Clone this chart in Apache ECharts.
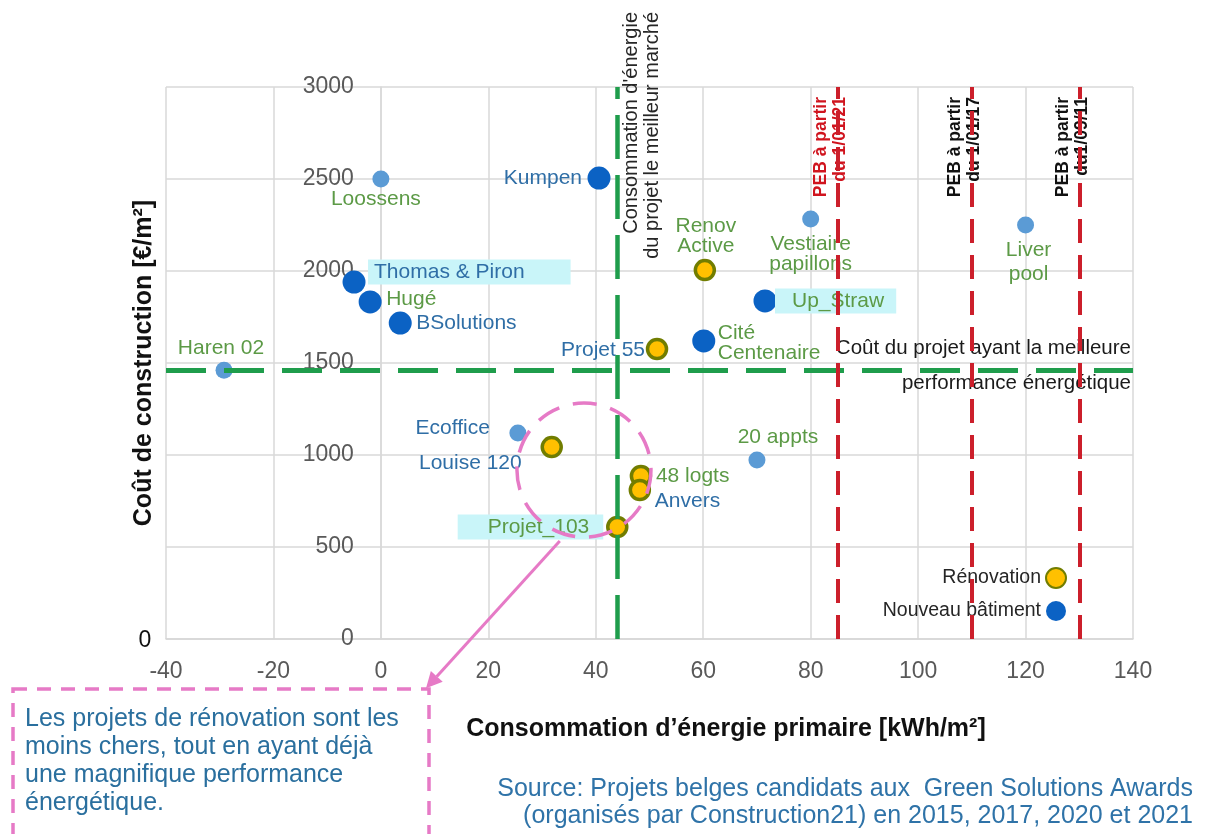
<!DOCTYPE html>
<html lang="fr">
<head>
<meta charset="utf-8">
<title>Coût de construction vs consommation d'énergie primaire</title>
<script src="https://cdn.jsdelivr.net/npm/echarts@6/dist/echarts.min.js"></script>
<style>
  html, body { margin: 0; padding: 0; background: #ffffff; }
  #chart { width: 1205px; height: 834px; }
</style>
</head>
<body>
<div id="chart"></div>
<script>
// ---- Data -------------------------------------------------------------
// Rénovation projects
const renovNames = ['Renov\nActive', 'Projet 55', 'Louise 120', '48 logts', 'Anvers', 'Projet_103'];
const renovX = [60.3, 51.4, 31.8, 48.4, 48.2, 44];
const renovY = [2005, 1576, 1043, 886, 810, 609];

// New buildings (large markers)
const newNames = ['Kumpen', 'Thomas & Piron', 'Hugé', 'BSolutions', 'Cité\nCentenaire', 'Up_Straw'];
const newX = [40.6, -5, -2, 3.6, 60.1, 71.5];
const newY = [2505, 1940, 1832, 1717, 1620, 1837];

// Other candidates (small markers)
const otherNames = ['Loossens', 'Haren 02', 'Vestiaire\npapillons', 'Liver\npool', 'Ecoffice', '20 appts'];
const otherX = [0, -29.2, 80, 120, 25.5, 70];
const otherY = [2500, 1460, 2283, 2250, 1120, 973];

// Reference lines
const cheapestProjectEnergy = 44;      // energy use of the cheapest project
const bestEnergyProjectCost = 1460;    // cost of the most efficient project
const pebThresholds = [85, 110, 130];
const pebLabels = ['PEB à partir\ndu 1/01/21', 'PEB à partir\ndu 1/01/17', 'PEB à partir\ndu1/09/11'];

// Axes
const xMin = -40, xMax = 140, xStep = 20;
const yMin = 0, yMax = 3000, yStep = 500;
const yAxisCrossesAt = 0;   // the vertical axis crosses the horizontal one here

// Legend names
const legendNames = ['Rénovation', 'Nouveau bâtiment'];

// ---- Styles -----------------------------------------------------------
const FONT = "'Liberation Sans', Arial, Helvetica, sans-serif";
const BLUE_TXT = '#2f6ea6';
const GREEN_TXT = '#5c9a46';
const HILITE = '#c9f5f9';
const GREEN_LINE = '#1f9d4c';
const RED_LINE = '#cc1f2b';
const PINK = '#e67ac6';

// Label placement per project: [dx, dy, align, colour, extra]
const labelPlacement = {
  'Renov\nActive':        [1, -34, 'center', GREEN_TXT],
  'Projet 55':            [-12, 1, 'right', BLUE_TXT],
  'Louise 120':           [-30, 16, 'right', BLUE_TXT],
  '48 logts':             [15, 0, 'left', GREEN_TXT],
  'Anvers':               [15, 11, 'left', BLUE_TXT],
  'Projet_103':           [-14, 0, 'right', GREEN_TXT, { backgroundColor: HILITE, padding: [3, 14, 2, 30] }],
  'Kumpen':               [-17, 0, 'right', BLUE_TXT],
  'Thomas & Piron':       [14, -10, 'left', BLUE_TXT, { backgroundColor: HILITE, padding: [3, 46, 2, 6] }],
  'Hugé':                 [16, -3, 'left', GREEN_TXT],
  'BSolutions':           [16, 0, 'left', BLUE_TXT],
  'Cité\nCentenaire':     [14, 2, 'left', GREEN_TXT],
  'Up_Straw':             [10, 0, 'left', GREEN_TXT, { backgroundColor: HILITE, padding: [3, 12, 2, 17] }],
  'Loossens':             [-5, 20, 'center', GREEN_TXT],
  'Haren 02':             [-3, -22, 'center', GREEN_TXT],
  'Vestiaire\npapillons': [0, 35, 'center', GREEN_TXT],
  'Liver\npool':          [3, 37, 'center', GREEN_TXT, { lineHeight: 24 }],
  'Ecoffice':             [-28, -5, 'right', BLUE_TXT],
  '20 appts':             [21, -23, 'center', GREEN_TXT]
};

function buildPoints(names, xs, ys) {
  return names.map(function (n, i) {
    const p = labelPlacement[n];
    const label = Object.assign({
      show: true,
      position: 'inside',
      offset: [p[0], p[1]],
      align: p[2],
      verticalAlign: 'middle',
      color: p[3]
    }, p[4] || {});
    return { name: n, value: [xs[i], ys[i]], label: label };
  });
}

const chart = echarts.init(document.getElementById('chart'), null, { renderer: 'canvas' });

const labelBase = {
  fontFamily: FONT,
  fontSize: 21,
  lineHeight: 20,
  formatter: '{b}'
};

const option = {
  backgroundColor: '#ffffff',
  animation: false,
  textStyle: { fontFamily: FONT },
  grid: { left: 166, right: 72, top: 87, bottom: 195, containLabel: false },
  xAxis: {
    type: 'value',
    min: xMin, max: xMax, interval: xStep,
    axisLine: { show: true, onZero: false, lineStyle: { color: '#d6d6d6', width: 1.5 } },
    axisTick: { show: false },
    axisLabel: { color: '#595959', fontSize: 23, margin: 21, fontFamily: FONT,
                 formatter: function (v) { return String(v); } },
    splitLine: { show: true, lineStyle: { color: '#d9d9d9', width: 1.5 } }
  },
  yAxis: {
    type: 'value',
    min: yMin, max: yMax, interval: yStep,
    axisLine: { show: true, onZero: false, lineStyle: { color: '#d9d9d9', width: 1.5 } },
    axisTick: { show: false },
    axisLabel: { color: '#595959', fontSize: 23, margin: 27, fontFamily: FONT,
                 formatter: function (v) { return String(v); } },
    splitLine: { show: true, lineStyle: { color: '#d9d9d9', width: 1.5 } }
  },
  legend: {
    data: legendNames,
    orient: 'vertical',
    right: 133,
    top: 562,
    align: 'right',
    itemWidth: 20,
    itemHeight: 20,
    itemGap: 12,
    icon: 'circle',
    textStyle: { color: '#262626', fontSize: 19.5, fontFamily: FONT }
  },
  series: [
    {
      // reference lines
      name: 'refs',
      type: 'scatter',
      data: [],
      z: 1,
      silent: true,
      markLine: {
        silent: true,
        symbol: 'none',
        label: { show: false },
        animation: false,
        data: [
          { xAxis: cheapestProjectEnergy, lineStyle: { color: GREEN_LINE, width: 4.5, type: [44, 16] } },
          { yAxis: bestEnergyProjectCost, lineStyle: { color: GREEN_LINE, width: 5, type: [40, 18] } }
        ].concat(pebThresholds.map(function (v) {
          return { xAxis: v, lineStyle: { color: RED_LINE, width: 4, type: [24, 12] } };
        }))
      }
    },
    {
      name: 'Autres',
      type: 'scatter',
      z: 3,
      symbolSize: 17,
      itemStyle: { color: '#5b9bd5', opacity: 1 },
      label: labelBase,
      data: buildPoints(otherNames, otherX, otherY)
    },
    {
      name: 'Rénovation',
      type: 'scatter',
      z: 4,
      symbolSize: 19,
      itemStyle: { color: '#ffc000', borderColor: '#717d00', borderWidth: 3.5, opacity: 1 },
      label: labelBase,
      data: buildPoints(renovNames, renovX, renovY)
    },
    {
      name: 'Nouveau bâtiment',
      type: 'scatter',
      z: 4,
      symbolSize: 23,
      itemStyle: { color: '#0b62c4', opacity: 1 },
      label: labelBase,
      data: buildPoints(newNames, newX, newY)
    }
  ]
};

chart.setOption(option);

function px(x, y) { return chart.convertToPixel({ gridIndex: 0 }, [x, y]); }

// Move the vertical axis (line and labels) onto x = 0.
chart.setOption({ yAxis: { offset: -(px(yAxisCrossesAt, 0)[0] - px(xMin, 0)[0]) } });

// ---- Annotations placed from data coordinates ---------------------------
const plotTop = px(0, yMax)[1];
const plotBottom = px(0, yMin)[1];
const plotRight = px(xMax, 0)[0];
const hLineY = px(0, bestEnergyProjectCost)[1];
const vLineX = px(cheapestProjectEnergy, 0)[0];

// circle around the cheap renovation cluster, in data units
const clusterCentre = [37.8, 918];
const arrowFrom = [33.3, 533];
const arrowTo = [8.4, -268];

const c = px(clusterCentre[0], clusterCentre[1]);
const a0 = px(arrowFrom[0], arrowFrom[1]);
const a1 = px(arrowTo[0], arrowTo[1]);

// arrow head
const ang = Math.atan2(a1[1] - a0[1], a1[0] - a0[0]);
const headLen = 16, headW = 8;
const hx = a1[0] - headLen * Math.cos(ang), hy = a1[1] - headLen * Math.sin(ang);
const head = [
  [a1[0], a1[1]],
  [hx + headW * Math.sin(ang), hy - headW * Math.cos(ang)],
  [hx - headW * Math.sin(ang), hy + headW * Math.cos(ang)]
];

const graphics = [];

// vertical green line caption
graphics.push({
  type: 'text', x: vLineX + 25, y: 12, rotation: Math.PI / 2, z: 2,
  style: {
    text: "Consommation d'énergie\ndu projet le meilleur marché",
    align: 'right', verticalAlign: 'middle',
    font: '20px ' + FONT, lineHeight: 21, fill: '#262626'
  }
});

// PEB captions
pebThresholds.forEach(function (v, i) {
  graphics.push({
    type: 'text', x: px(v, 0)[0] - 7, y: plotTop + 10, rotation: Math.PI / 2, z: 0,
    style: {
      text: pebLabels[i],
      align: 'right', verticalAlign: 'middle',
      font: 'bold 17.5px ' + FONT, lineHeight: 19,
      fill: i === 0 ? '#d0141e' : '#111111'
    }
  });
});

// horizontal green line caption
graphics.push({
  type: 'text', x: plotRight - 2, y: hLineY - 22, z: 2,
  style: { text: 'Coût du projet ayant la meilleure', align: 'right', verticalAlign: 'middle',
           font: '20.5px ' + FONT, fill: '#1a1a1a' }
});
graphics.push({
  type: 'text', x: plotRight - 2, y: hLineY + 13, z: 2,
  style: { text: 'performance énergétique', align: 'right', verticalAlign: 'middle',
           font: '20.5px ' + FONT, fill: '#1a1a1a' }
});

// dashed circle + arrow
graphics.push({
  type: 'circle', shape: { cx: c[0], cy: c[1], r: 67 }, z: 5,
  style: { fill: 'none', stroke: PINK, lineWidth: 3.5, lineDash: [24, 14] }
});
graphics.push({
  type: 'line', shape: { x1: a0[0], y1: a0[1], x2: hx, y2: hy }, z: 5,
  style: { stroke: PINK, lineWidth: 3 }
});
graphics.push({
  type: 'polygon', shape: { points: head }, z: 5,
  style: { fill: PINK }
});

// comment box
graphics.push({
  type: 'rect', shape: { x: 13, y: 689, width: 416, height: 150 }, z: 5,
  style: { fill: 'none', stroke: PINK, lineWidth: 3.5, lineDash: [14, 10] }
});
graphics.push({
  type: 'text', x: 25, y: 705, z: 5,
  style: {
    text: 'Les projets de rénovation sont les\nmoins chers, tout en ayant déjà\nune magnifique performance\nénergétique.',
    align: 'left', verticalAlign: 'top',
    font: '25px ' + FONT, lineHeight: 28, fill: '#2a6f9e'
  }
});

// axis titles
graphics.push({
  type: 'text', x: 726, y: 729, z: 5,
  style: { text: "Consommation d’énergie primaire [kWh/m²]", align: 'center', verticalAlign: 'middle',
           font: 'bold 25px ' + FONT, fill: '#111111' }
});
graphics.push({
  type: 'text', x: 144, y: 363, rotation: Math.PI / 2, z: 5,
  style: { text: 'Coût de construction [€/m²]', align: 'center', verticalAlign: 'middle',
           font: 'bold 25px ' + FONT, fill: '#111111' }
});
graphics.push({
  type: 'text', x: 145, y: plotBottom + 2, z: 5,
  style: { text: '0', align: 'center', verticalAlign: 'middle', font: '23px ' + FONT, fill: '#111111' }
});

// source
graphics.push({
  type: 'text', x: 1193, y: 789, z: 5,
  style: { text: 'Source: Projets belges candidats aux  Green Solutions Awards', align: 'right',
           verticalAlign: 'middle', font: '25px ' + FONT, fill: '#2f73a8' }
});
graphics.push({
  type: 'text', x: 1193, y: 816, z: 5,
  style: { text: '(organisés par Construction21) en 2015, 2017, 2020 et 2021', align: 'right',
           verticalAlign: 'middle', font: '25px ' + FONT, fill: '#2f73a8' }
});

chart.setOption({ graphic: { elements: graphics } });
</script>
</body>
</html>
